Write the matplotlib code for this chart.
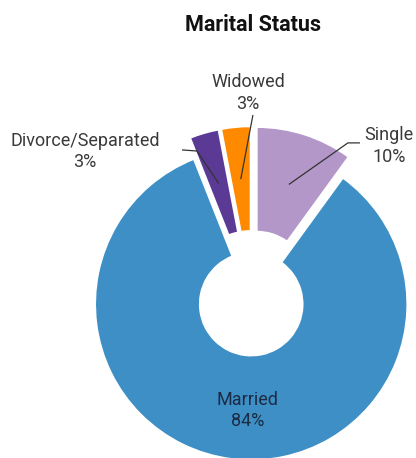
import numpy as np
import matplotlib
matplotlib.use("Agg")
import matplotlib.pyplot as plt

plt.rcParams['font.family'] = ['Roboto', 'DejaVu Sans']

# data
labels = ['Single', 'Married', 'Divorce/Separated', 'Widowed']
shares = [10, 84, 3, 3]
colors = ['#b497c9', '#3d8fc6', '#5b3a96', '#ff8a00']
explode = [0.1, 0.04, 0.1, 0.1]

fig = plt.figure(figsize=(4.16, 4.58), dpi=100)
ax = fig.add_axes([0, 0, 1, 1])

ring = 0.67
wedges, _ = ax.pie(shares, colors=colors, explode=explode, startangle=90,
                   counterclock=False, radius=1.0,
                   wedgeprops=dict(width=ring, edgecolor='white', linewidth=1.2))

ax.set_xlim(-1.615, 1.051)
ax.set_ylim(-1.026, 1.910)
ax.set_aspect('equal', adjustable='box')
ax.axis('off')

# label placement: text centre, leader elbow, leader end (None = straight line)
text_pos = {'Single': (0.878, 0.975),
            'Widowed': (-0.026, 1.315),
            'Divorce/Separated': (-1.07, 0.94)}
elbow = {'Single': (0.615, 0.994),
         'Widowed': None,
         'Divorce/Separated': (-0.353, 0.942)}
line_end = {'Single': (0.692, 0.994),
            'Widowed': (0.006, 1.173),
            'Divorce/Separated': (-0.449, 0.949)}

for w, lab, val, ex in zip(wedges, labels, shares, explode):
    mid = np.deg2rad((w.theta1 + w.theta2) / 2)
    r = 1 - ring / 2 + ex
    ax_, ay_ = r * np.cos(mid), r * np.sin(mid)
    txt = f'{lab}\n{val}%'
    if lab == 'Married':
        ax.text(-0.026, -0.72, txt, ha='center', va='center', fontsize=13,
                color='#1c2b44', linespacing=1.25)
        continue
    pts = [(ax_, ay_)]
    if elbow[lab] is not None:
        pts.append(elbow[lab])
    pts.append(line_end[lab])
    xs, ys = zip(*pts)
    ax.plot(xs, ys, color='#333333', lw=0.9, solid_capstyle='butt')
    tx, ty = text_pos[lab]
    ax.text(tx, ty, txt, ha='center', va='center', fontsize=13,
            color='#3a3a3a', linespacing=1.25)

fig.text(0.608, 0.945, 'Marital Status', ha='center', va='center',
         fontsize=15.5, fontweight='bold', color='#111111')

fig.savefig('out.png', dpi=100)
